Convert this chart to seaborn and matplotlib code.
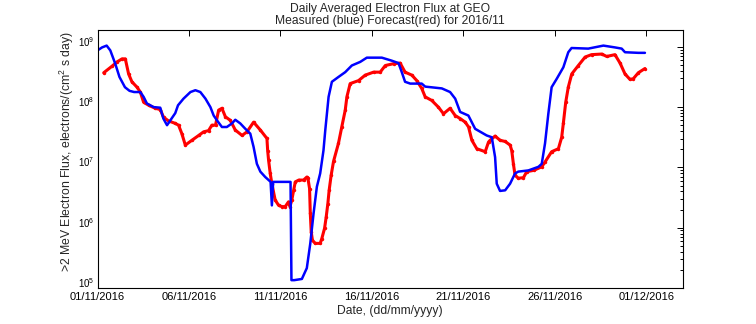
import numpy as np
import pandas as pd
import matplotlib
matplotlib.use("Agg")
import matplotlib.pyplot as plt
import matplotlib.dates as mdates
import matplotlib.ticker as mticker
import seaborn as sns

# ---- data (flux given as log10 values of the log axis) ----
start = pd.Timestamp("2016-11-01")

blue_days = [0.0, 0.25, 0.5, 0.7, 0.97, 1.2, 1.5, 1.75, 2.0, 2.34, 2.52, 2.7, 3.07, 3.43,
             3.6, 3.8, 3.98, 4.25, 4.4, 4.7, 5.08, 5.35, 5.62, 5.9, 6.17, 6.35, 6.53, 6.8,
             7.07, 7.35, 7.53, 7.8, 8.08, 8.35, 8.53, 8.71, 8.9, 9.17, 9.39, 9.46, 9.53,
             9.6, 9.8, 10.2, 10.55, 10.6, 10.75, 11.17, 11.44, 11.63, 11.81, 11.99, 12.17,
             12.35, 12.45, 12.63, 12.81, 13.17, 13.54, 13.9, 14.36, 14.72, 15.54, 16.08,
             16.45, 16.63, 16.81, 17.09, 17.72, 17.91, 18.82, 19.27, 19.55, 19.82, 20.27,
             20.64, 21.27, 21.55, 21.73, 21.82, 22.0, 22.28, 22.55, 22.82, 23.0, 23.55,
             24.1, 24.28, 24.46, 24.64, 24.82, 25.1, 25.46, 25.73, 25.91, 26.82, 27.65,
             28.28, 28.65, 28.83, 29.56, 29.92]
blue_log10 = [8.94, 8.99, 9.02, 8.94, 8.72, 8.50, 8.33, 8.27, 8.25, 8.25, 8.17, 8.06, 8.00,
              7.99, 7.81, 7.70, 7.78, 7.90, 8.03, 8.14, 8.25, 8.28, 8.25, 8.14, 8.00, 7.86,
              7.78, 7.67, 7.67, 7.73, 7.79, 7.73, 7.64, 7.56, 7.34, 7.06, 6.93, 6.84, 6.78,
              6.76, 6.37, 6.76, 6.76, 6.76, 6.76, 5.13, 5.13, 5.15, 5.33, 5.74, 6.24, 6.68,
              6.90, 7.28, 7.62, 8.17, 8.42, 8.50, 8.58, 8.69, 8.75, 8.82, 8.82, 8.77, 8.73,
              8.58, 8.42, 8.39, 8.39, 8.34, 8.31, 8.25, 8.14, 7.92, 7.86, 7.64, 7.53, 7.50,
              7.17, 6.73, 6.61, 6.62, 6.73, 6.90, 6.93, 6.95, 7.01, 7.06, 7.40, 7.89, 8.33,
              8.47, 8.66, 8.91, 8.98, 8.97, 9.02, 8.99, 8.97, 8.91, 8.90, 8.90]

red_days = [0.34, 0.8, 1.07, 1.34, 1.52, 1.7, 1.88, 2.16, 2.34, 2.52, 2.8, 3.16, 3.43, 3.61,
            3.89, 4.25, 4.43, 4.61, 4.8, 5.16, 5.53, 5.8, 6.07, 6.25, 6.45, 6.62, 6.8, 6.99,
            7.26, 7.53, 7.9, 8.17, 8.53, 8.9, 9.26, 9.30, 9.35, 9.44, 9.53, 9.71, 9.90,
            10.08, 10.26, 10.44, 10.52, 10.62, 10.72, 10.81, 11.0, 11.26, 11.44, 11.5, 11.59,
            11.63, 11.68, 11.75, 11.9, 12.17, 12.26, 12.41, 12.50, 12.59, 12.66, 12.77,
            12.90, 13.17, 13.35, 13.54, 13.63, 13.81, 14.27, 14.63, 15.09, 15.45, 15.73,
            16.18, 16.54, 16.81, 17.18, 17.45, 17.72, 17.91, 18.27, 18.63, 18.91, 19.27,
            19.55, 19.82, 20.1, 20.28, 20.46, 20.73, 21.19, 21.37, 21.46, 21.73, 22.0,
            22.28, 22.55, 22.64, 22.73, 22.82, 23.0, 23.28, 23.46, 23.83, 24.28, 24.46,
            24.82, 25.19, 25.37, 25.46, 25.59, 25.73, 25.92, 26.28, 26.65, 27.0, 27.56,
            27.83, 28.28, 28.56, 28.83, 29.1, 29.28, 29.56, 29.92]
red_log10 = [8.57, 8.68, 8.75, 8.80, 8.80, 8.55, 8.42, 8.33, 8.25, 8.08, 8.03, 7.98, 7.96,
             7.83, 7.77, 7.73, 7.70, 7.56, 7.37, 7.45, 7.53, 7.59, 7.61, 7.70, 7.70, 7.95,
             7.98, 7.84, 7.78, 7.62, 7.53, 7.59, 7.75, 7.62, 7.48, 7.28, 7.12, 6.90, 6.73,
             6.46, 6.37, 6.35, 6.35, 6.43, 6.35, 6.46, 6.62, 6.76, 6.79, 6.79, 6.84, 6.82,
             6.65, 6.24, 5.93, 5.79, 5.74, 5.74, 5.82, 5.99, 6.18, 6.40, 6.62, 6.87, 7.10,
             7.40, 7.67, 7.95, 8.17, 8.39, 8.44, 8.53, 8.58, 8.58, 8.69, 8.72, 8.73, 8.58,
             8.53, 8.44, 8.31, 8.17, 8.11, 8.00, 7.89, 7.98, 7.86, 7.81, 7.75, 7.67, 7.45,
             7.31, 7.26, 7.42, 7.45, 7.52, 7.45, 7.43, 7.37, 7.28, 7.06, 6.87, 6.82, 6.83,
             6.93, 6.95, 7.01, 7.09, 7.26, 7.31, 7.50, 7.73, 8.08, 8.33, 8.55, 8.69, 8.83,
             8.87, 8.88, 8.84, 8.87, 8.73, 8.55, 8.46, 8.47, 8.57, 8.64]

xtick_days = [1, 6, 11, 16, 21, 26]
ytick_exponents = [5, 6, 7, 8, 9]

title_text = "Daily Averaged Electron Flux at GEO\nMeasured (blue) Forecast(red) for 2016/11"
xlabel_text = "Date, (dd/mm/yyyy)"
ylabel_text = ">2 MeV Electron Flux, electrons/(cm$^2$ s day)"

# ---- frames ----
blue_df = pd.DataFrame({"time": start + pd.to_timedelta(blue_days, unit="D"),
                        "flux": np.power(10.0, blue_log10)})
red_df = pd.DataFrame({"time": start + pd.to_timedelta(red_days, unit="D"),
                       "flux": np.power(10.0, red_log10)})

# ---- style ----
sns.set_style("white")
plt.rcParams["font.family"] = ["Liberation Sans", "DejaVu Sans"]
plt.rcParams["mathtext.default"] = "regular"
plt.rcParams["font.size"] = 8

fig = plt.figure(figsize=(7.56, 3.24), dpi=100)
ax = fig.add_axes([97.5 / 756, 36 / 324, (683 - 97.5) / 756, (288 - 30) / 324])

sns.lineplot(data=red_df, x="time", y="flux", ax=ax, color="#ff0000", lw=2.2,
             marker=".", markersize=5, markeredgewidth=0, estimator=None, sort=False)
sns.lineplot(data=blue_df, x="time", y="flux", ax=ax, color="#0000ff", lw=1.8,
             estimator=None, sort=False)

ax.set_yscale("log")
ax.set_ylim(1e5, 1.9e9)
ax.set_xlim(start, start + pd.Timedelta(days=32))

ax.xaxis.set_major_locator(mdates.DayLocator(bymonthday=xtick_days))
ax.xaxis.set_major_formatter(mdates.DateFormatter("%d/%m/%Y"))
ax.yaxis.set_major_locator(mticker.FixedLocator([10.0 ** e for e in ytick_exponents]))
ax.yaxis.set_major_formatter(mticker.FixedFormatter(["$10^{%d}$" % e for e in ytick_exponents]))
ax.yaxis.set_minor_locator(mticker.LogLocator(base=10, subs=np.arange(2, 10), numticks=20))
ax.yaxis.set_minor_formatter(mticker.NullFormatter())

ax.tick_params(which="both", direction="in", top=True, right=True, colors="black",
               width=0.7)
ax.tick_params(axis="x", which="major", labelsize=8, length=4.5, pad=3)
ax.tick_params(axis="y", which="major", labelsize=7, length=4.5, pad=2)
ax.tick_params(which="minor", length=2.5)
ax.tick_params(axis="x", which="minor", bottom=False, top=False)
for lbl in ax.get_yticklabels():
    lbl.set_verticalalignment("baseline")

for s in ax.spines.values():
    s.set_color("black")
    s.set_linewidth(0.8)
    s.set_visible(True)

ax.set_title(title_text, fontsize=8.7, pad=4, linespacing=1.1)
ax.set_xlabel(xlabel_text, fontsize=8.7, labelpad=2)
ax.set_ylabel(ylabel_text, fontsize=8.8)
ax.yaxis.set_label_coords(-0.036, 0.53)
ax.grid(False)

fig.savefig("out.png", dpi=100)
